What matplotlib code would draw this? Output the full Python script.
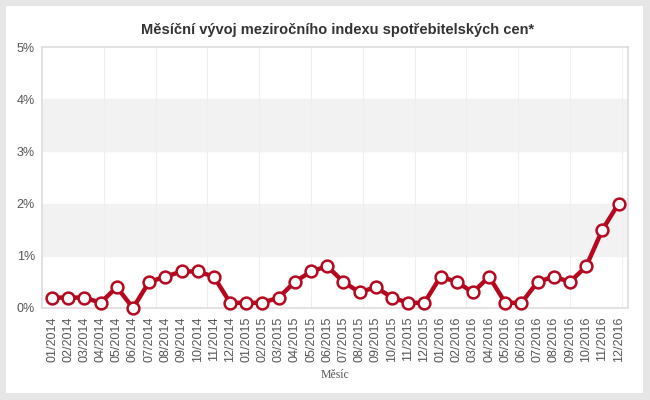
import matplotlib.pyplot as plt
import numpy as np
from matplotlib.patches import Rectangle

plt.rcParams['font.family'] = ['Liberation Sans', 'DejaVu Sans']

months = ['%02d/%d' % (m, y) for y in (2014, 2015, 2016) for m in range(1, 13)]
cpi = [0.2, 0.2, 0.2, 0.1, 0.4, 0.0, 0.5, 0.6, 0.7, 0.7, 0.6, 0.1,
       0.1, 0.1, 0.2, 0.5, 0.7, 0.8, 0.5, 0.3, 0.4, 0.2, 0.1, 0.1,
       0.6, 0.5, 0.3, 0.6, 0.1, 0.1, 0.5, 0.6, 0.5, 0.8, 1.5, 2.0]
y_ticks = [0, 1, 2, 3, 4, 5]

fig = plt.figure(figsize=(6.5, 4), dpi=100, facecolor='#e6e6e6')
# white card behind everything
fig.patches.append(Rectangle((6 / 650, 7 / 400), 637 / 650, 387 / 400,
                             transform=fig.transFigure, facecolor='white',
                             edgecolor='none', zorder=-10))

ax = fig.add_axes([42 / 650, 92 / 400, 586 / 650, 261 / 400])
ax.set_zorder(1)
x = np.arange(len(months))

# alternating bands
for lo in (1, 3):
    ax.axhspan(lo, lo + 1, color='#f2f2f2', zorder=0)
for k in np.arange(3.2, len(months), 3.2):
    ax.axvline(k, color='#efefef', lw=0.8, zorder=0.5)

ax.plot(x, cpi, color='#b5081f', lw=3.2, marker='o', markersize=8.5,
        markerfacecolor='white', markeredgecolor='#b5081f',
        markeredgewidth=1.8, zorder=3, clip_on=False)

ax.set_xlim(-0.62, len(months) - 1 + 0.58)
ax.set_ylim(0, 5)
ax.set_yticks(y_ticks)
ax.set_yticklabels(['%d%%' % v for v in y_ticks])
ax.set_xticks(x)
ax.set_xticklabels(months, rotation=90)
ax.tick_params(axis='both', length=0, colors='#555555', labelsize=9)
ax.tick_params(axis='x', pad=6)
ax.tick_params(axis='y', pad=5)
for s in ax.spines.values():
    s.set_color('#dddddd')
    s.set_linewidth(1.2)

ax.set_xlabel('Měsíc', family='Liberation Serif', fontsize=8.5,
              color='#555555', labelpad=5)
fig.text(338 / 650, 370 / 400, 'Měsíční vývoj meziročního indexu spotřebitelských cen*',
         ha='center', va='center', fontsize=10.5, fontweight='bold',
         color='#333333')

fig.savefig('out.png', dpi=100, facecolor=fig.get_facecolor())
